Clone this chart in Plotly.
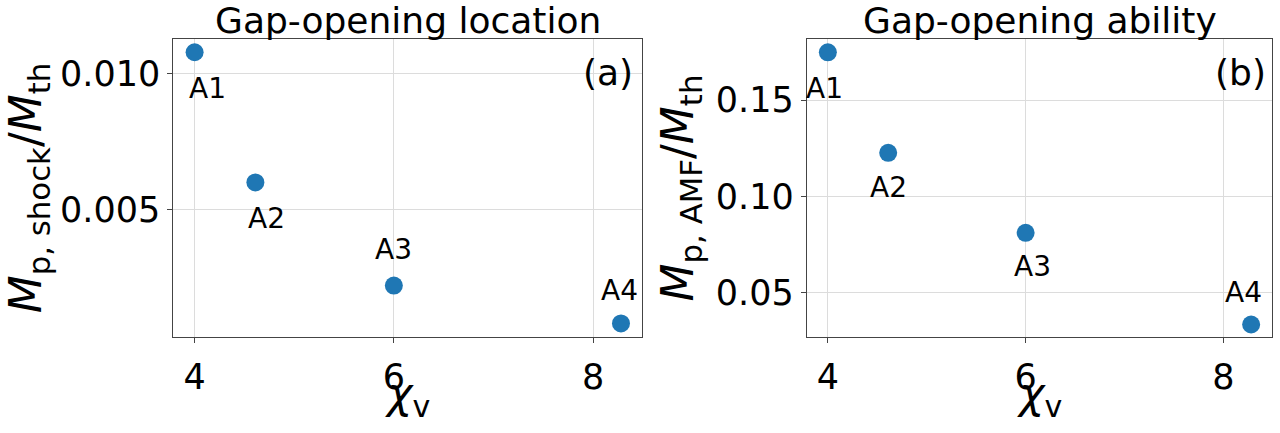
import plotly.graph_objects as go

# ---- data ----
labels = ["A1", "A2", "A3", "A4"]
chi_v = [4.0, 4.61, 6.0, 8.28]
m_shock = [0.0108, 0.00599, 0.00218, 0.00078]
m_amf = [0.1748, 0.1226, 0.081, 0.0334]

# label offsets in pixels (dx, dy) -- style only
off_a = [(13, -36), (11, -36), (0, 36), (-1, 33)]
off_b = [(-3, -36), (0, -35), (7, -34), (-8, 32)]

FONT = "DejaVu Sans"
BLUE = "#1f77b4"
W, H = 1280, 433

def px_x(p):
    return p / W

def px_y(p):
    return 1 - p / H

dom_y = [px_y(337), px_y(39)]
dom_x1 = [px_x(173.3), px_x(642.3)]
dom_x2 = [px_x(806.7), px_x(1272.3)]

fig = go.Figure()
fig.add_trace(go.Scatter(x=chi_v, y=m_shock, mode="markers", xaxis="x", yaxis="y",
                         marker=dict(size=18, color=BLUE), showlegend=False))
fig.add_trace(go.Scatter(x=chi_v, y=m_amf, mode="markers", xaxis="x2", yaxis="y2",
                         marker=dict(size=18, color=BLUE), showlegend=False))

ann = []
for lab, xv, yv, (dx, dy) in zip(labels, chi_v, m_shock, off_a):
    ann.append(dict(x=xv, y=yv, xref="x", yref="y", text=lab, showarrow=False,
                    xshift=dx, yshift=dy, font=dict(family=FONT, size=28, color="black")))
for lab, xv, yv, (dx, dy) in zip(labels, chi_v, m_amf, off_b):
    ann.append(dict(x=xv, y=yv, xref="x2", yref="y2", text=lab, showarrow=False,
                    xshift=dx, yshift=dy, font=dict(family=FONT, size=28, color="black")))

# subplot titles
ann.append(dict(x=(dom_x1[0] + dom_x1[1]) / 2, y=dom_y[1], xref="paper", yref="paper",
                text="Gap-opening location", showarrow=False, xanchor="center",
                yanchor="bottom", yshift=-4,
                font=dict(family=FONT, size=36, color="black")))
ann.append(dict(x=(dom_x2[0] + dom_x2[1]) / 2, y=dom_y[1], xref="paper", yref="paper",
                text="Gap-opening ability", showarrow=False, xanchor="center",
                yanchor="bottom", yshift=-4,
                font=dict(family=FONT, size=36, color="black")))
# x-axis titles
for dom in (dom_x1, dom_x2):
    ann.append(dict(x=(dom[0] + dom[1]) / 2, y=px_y(396), xref="paper", yref="paper",
                    text="<i>χ</i><sub>v</sub>", showarrow=False, xanchor="center",
                    yanchor="middle", borderpad=0,
                    font=dict(family=FONT, size=43, color="black")))
# panel tags
ann.append(dict(x=px_x(608), y=px_y(72), xref="paper", yref="paper", text="(a)",
                xanchor="center", yanchor="middle",
                showarrow=False, font=dict(family=FONT, size=36, color="black")))
ann.append(dict(x=px_x(1240), y=px_y(72), xref="paper", yref="paper", text="(b)",
                xanchor="center", yanchor="middle",
                showarrow=False, font=dict(family=FONT, size=36, color="black")))

axis_common = dict(showline=True, linecolor="#444", linewidth=1, mirror=True,
                   showgrid=True, gridcolor="#dcdcdc", gridwidth=1,
                   ticks="outside", ticklen=5, tickcolor="#444",
                   tickfont=dict(family=FONT, size=35, color="black"),
                   zeroline=False)

fig.update_layout(
    width=W, height=H,
    margin=dict(l=0, r=0, t=0, b=0),
    plot_bgcolor="white", paper_bgcolor="white",
    xaxis=dict(domain=dom_x1, range=[3.786, 8.494], tickvals=[4, 6, 8], anchor="y",
               ticklabelstandoff=4, **axis_common),
    yaxis=dict(domain=dom_y, range=[0.00028, 0.01129], tickvals=[0.005, 0.010],
               ticktext=["0.005", "0.010"], anchor="x",
               title=dict(text="<i>M</i><sub>p, shock</sub>/<i>M</i><sub>th</sub>",
                          font=dict(family=FONT, size=44, color="black"), standoff=8),
               **axis_common),
    xaxis2=dict(domain=dom_x2, range=[3.786, 8.494], tickvals=[4, 6, 8], anchor="y2",
                ticklabelstandoff=4, **axis_common),
    yaxis2=dict(domain=dom_y, range=[0.0269, 0.1817], tickvals=[0.05, 0.10, 0.15],
                ticktext=["0.05", "0.10", "0.15"], anchor="x2",
                title=dict(text="<i>M</i><sub>p, AMF</sub>/<i>M</i><sub>th</sub>",
                           font=dict(family=FONT, size=44, color="black"), standoff=8),
                **axis_common),
    annotations=ann,
)

fig.write_html("out.html")
